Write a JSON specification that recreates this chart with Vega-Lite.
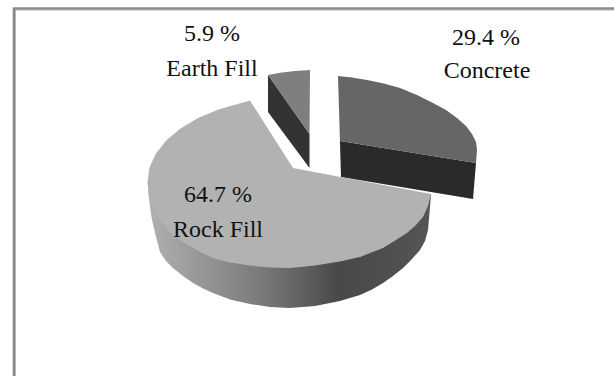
{
  "$schema": "https://vega.github.io/schema/vega-lite/v6.json",
  "width": 614,
  "height": 376,
  "padding": 0,
  "autosize": {"type": "none"},
  "background": "white",
  "view": {"stroke": null},
  "config": {"axis": {"disable": true}},
  "resolve": {"scale": {"color": "independent"}},
  "datasets": {
    "frame": [
      {"edge": "light", "seq": 1, "x": 15.4, "y": 376},
      {"edge": "light", "seq": 2, "x": 15.4, "y": 10.2},
      {"edge": "light", "seq": 3, "x": 614, "y": 10.2},
      {"edge": "dark", "seq": 1, "x": 14, "y": 376},
      {"edge": "dark", "seq": 2, "x": 14, "y": 8.5},
      {"edge": "dark", "seq": 3, "x": 614, "y": 8.5}
    ],
    "backFaces": [
      {"face": "Earth Fill side", "seq": 1, "x": 268, "y": 75},
      {"face": "Earth Fill side", "seq": 2, "x": 309.5, "y": 134},
      {"face": "Earth Fill side", "seq": 3, "x": 309.5, "y": 168},
      {"face": "Earth Fill side", "seq": 4, "x": 268, "y": 112},

      {"face": "Earth Fill top", "seq": 1, "x": 268, "y": 75},
      {"face": "Earth Fill top", "seq": 2, "x": 280, "y": 72.7},
      {"face": "Earth Fill top", "seq": 3, "x": 295, "y": 71},
      {"face": "Earth Fill top", "seq": 4, "x": 310, "y": 70},
      {"face": "Earth Fill top", "seq": 5, "x": 309.5, "y": 134},

      {"face": "Concrete side", "seq": 1, "x": 338, "y": 76},
      {"face": "Concrete side", "seq": 2, "x": 340, "y": 141},
      {"face": "Concrete side", "seq": 3, "x": 476, "y": 163},
      {"face": "Concrete side", "seq": 4, "x": 473, "y": 199},
      {"face": "Concrete side", "seq": 5, "x": 341, "y": 177},

      {"face": "Concrete top", "seq": 1, "x": 338, "y": 76},
      {"face": "Concrete top", "seq": 2, "x": 352, "y": 77.5},
      {"face": "Concrete top", "seq": 3, "x": 367, "y": 80},
      {"face": "Concrete top", "seq": 4, "x": 384, "y": 83.5},
      {"face": "Concrete top", "seq": 5, "x": 400, "y": 88},
      {"face": "Concrete top", "seq": 6, "x": 417, "y": 95},
      {"face": "Concrete top", "seq": 7, "x": 433, "y": 103},
      {"face": "Concrete top", "seq": 8, "x": 446, "y": 110},
      {"face": "Concrete top", "seq": 9, "x": 457, "y": 118},
      {"face": "Concrete top", "seq": 10, "x": 466, "y": 126},
      {"face": "Concrete top", "seq": 11, "x": 472, "y": 134},
      {"face": "Concrete top", "seq": 12, "x": 476, "y": 142},
      {"face": "Concrete top", "seq": 13, "x": 477, "y": 150},
      {"face": "Concrete top", "seq": 14, "x": 476, "y": 163},
      {"face": "Concrete top", "seq": 15, "x": 340, "y": 141}
    ],
    "rockSide": [
      {"seq": 1, "x": 148, "y": 190},
      {"seq": 2, "x": 150, "y": 207},
      {"seq": 3, "x": 152, "y": 220},
      {"seq": 4, "x": 155, "y": 233},
      {"seq": 5, "x": 160, "y": 252},
      {"seq": 6, "x": 166, "y": 261},
      {"seq": 7, "x": 173, "y": 268},
      {"seq": 8, "x": 183, "y": 276},
      {"seq": 9, "x": 193, "y": 283},
      {"seq": 10, "x": 203, "y": 288.5},
      {"seq": 11, "x": 213, "y": 293},
      {"seq": 12, "x": 230, "y": 299.5},
      {"seq": 13, "x": 250, "y": 304},
      {"seq": 14, "x": 270, "y": 307},
      {"seq": 15, "x": 290, "y": 308},
      {"seq": 16, "x": 315, "y": 306},
      {"seq": 17, "x": 340, "y": 301},
      {"seq": 18, "x": 360, "y": 295},
      {"seq": 19, "x": 372, "y": 289.5},
      {"seq": 20, "x": 383, "y": 283},
      {"seq": 21, "x": 393, "y": 276},
      {"seq": 22, "x": 403, "y": 268},
      {"seq": 23, "x": 412, "y": 259},
      {"seq": 24, "x": 420, "y": 250},
      {"seq": 25, "x": 425, "y": 241},
      {"seq": 26, "x": 428, "y": 230},
      {"seq": 27, "x": 430, "y": 207},
      {"seq": 28, "x": 431, "y": 194},
      {"seq": 29, "x": 290, "y": 200}
    ],
    "rockTop": [
      {"seq": 1, "x": 250, "y": 100.5},
      {"seq": 2, "x": 218.5, "y": 109.4},
      {"seq": 3, "x": 198, "y": 117.9},
      {"seq": 4, "x": 180.5, "y": 128.4},
      {"seq": 5, "x": 166.2, "y": 140.5},
      {"seq": 6, "x": 155.6, "y": 153.9},
      {"seq": 7, "x": 149.2, "y": 168.2},
      {"seq": 8, "x": 147.5, "y": 183},
      {"seq": 9, "x": 149, "y": 195},
      {"seq": 10, "x": 152, "y": 205},
      {"seq": 11, "x": 155.5, "y": 213},
      {"seq": 12, "x": 160, "y": 220},
      {"seq": 13, "x": 166, "y": 228},
      {"seq": 14, "x": 173, "y": 235},
      {"seq": 15, "x": 183, "y": 242},
      {"seq": 16, "x": 193, "y": 248},
      {"seq": 17, "x": 203, "y": 253.5},
      {"seq": 18, "x": 213, "y": 258},
      {"seq": 19, "x": 230, "y": 262.5},
      {"seq": 20, "x": 250, "y": 265.5},
      {"seq": 21, "x": 270, "y": 267.5},
      {"seq": 22, "x": 290, "y": 268},
      {"seq": 23, "x": 315, "y": 265.5},
      {"seq": 24, "x": 340, "y": 261.5},
      {"seq": 25, "x": 360, "y": 257},
      {"seq": 26, "x": 383, "y": 248},
      {"seq": 27, "x": 396, "y": 240},
      {"seq": 28, "x": 407, "y": 233},
      {"seq": 29, "x": 416, "y": 225},
      {"seq": 30, "x": 423, "y": 217},
      {"seq": 31, "x": 428, "y": 206},
      {"seq": 32, "x": 431, "y": 194},
      {"seq": 33, "x": 293, "y": 168}
    ],
    "labels": [
      {"text": "5.9 %", "x": 212, "y": 41},
      {"text": "Earth Fill", "x": 212, "y": 76},
      {"text": "29.4 %", "x": 486, "y": 45},
      {"text": "Concrete", "x": 487, "y": 78},
      {"text": "64.7 %", "x": 218, "y": 202},
      {"text": "Rock Fill", "x": 218, "y": 237}
    ]
  },
  "data": {"name": "labels"},
  "encoding": {
    "x": {"field": "x", "type": "quantitative", "scale": {"domain": [0, 614], "nice": false, "zero": false}, "axis": null},
    "y": {"field": "y", "type": "quantitative", "scale": {"domain": [376, 0], "nice": false, "zero": false}, "axis": null}
  },
  "layer": [
    {
      "data": {"name": "frame"},
      "mark": {"type": "line", "strokeCap": "butt", "strokeJoin": "miter"},
      "encoding": {
        "order": {"field": "seq", "type": "ordinal"},
        "color": {"field": "edge", "type": "nominal", "scale": {"domain": ["dark", "light"], "range": ["#8a8a8a", "#c4c4c4"]}, "legend": null},
        "strokeWidth": {"field": "edge", "type": "nominal", "scale": {"domain": ["dark", "light"], "range": [2.6, 1]}, "legend": null}
      }
    },
    {
      "data": {"name": "backFaces"},
      "mark": {"type": "line", "filled": true, "strokeWidth": 0, "opacity": 1, "fillOpacity": 1},
      "encoding": {
        "order": {"field": "seq", "type": "ordinal"},
        "color": {
          "field": "face", "type": "nominal",
          "scale": {
            "domain": ["Earth Fill side", "Earth Fill top", "Concrete side", "Concrete top"],
            "range": ["#333333", "#7f7f7f", "#2a2a2a", "#666666"]
          },
          "legend": null
        }
      }
    },
    {
      "data": {"name": "rockSide"},
      "mark": {
        "type": "line", "filled": true, "strokeWidth": 0, "opacity": 1, "fillOpacity": 1,
        "fill": {
          "gradient": "linear", "x1": 0, "y1": 0, "x2": 1, "y2": 0,
          "stops": [
            {"offset": 0, "color": "#b0b0b0"},
            {"offset": 0.4, "color": "#7a7a7a"},
            {"offset": 0.68, "color": "#484848"},
            {"offset": 1, "color": "#555555"}
          ]
        }
      },
      "encoding": {"order": {"field": "seq", "type": "ordinal"}}
    },
    {
      "data": {"name": "rockTop"},
      "mark": {"type": "line", "filled": true, "strokeWidth": 0, "opacity": 1, "fillOpacity": 1, "fill": "#b2b2b2"},
      "encoding": {"order": {"field": "seq", "type": "ordinal"}}
    },
    {
      "data": {"name": "labels"},
      "mark": {"type": "text", "font": "Liberation Serif", "fontSize": 24, "align": "center", "baseline": "alphabetic", "color": "#111111"},
      "encoding": {"text": {"field": "text", "type": "nominal"}}
    }
  ]
}
